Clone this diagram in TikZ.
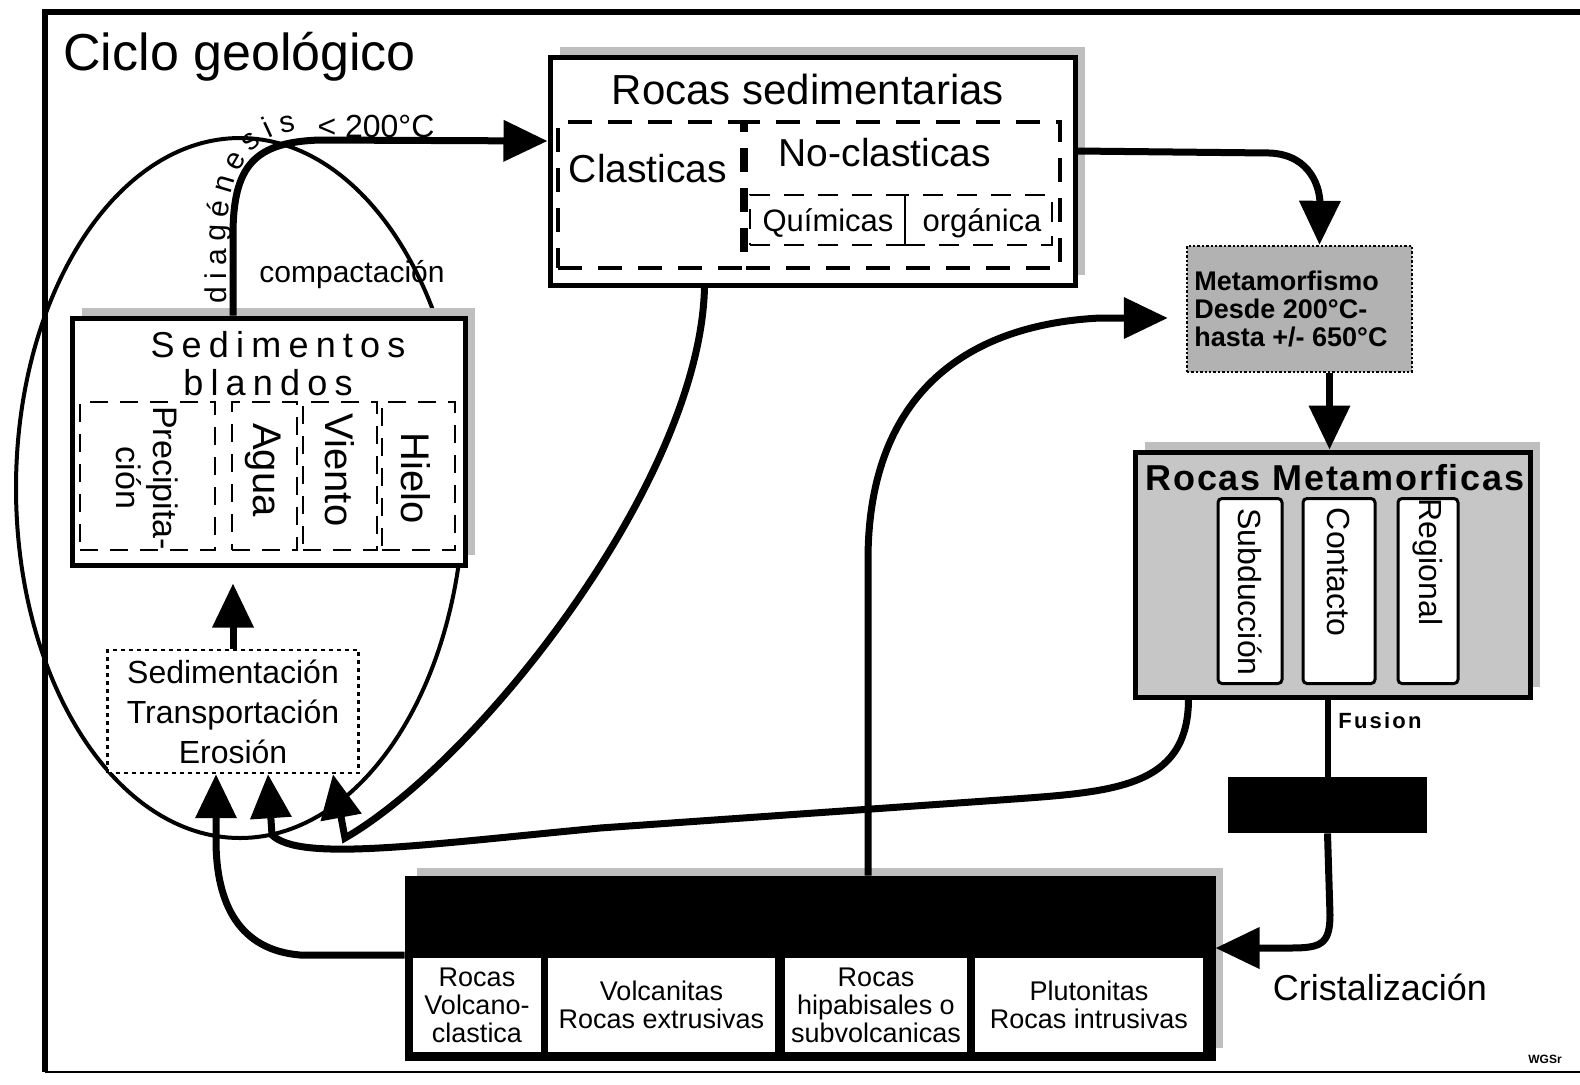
\documentclass[tikz,border=0pt]{standalone}
\usepackage{fontspec}
\setmainfont{Liberation Sans}
\usetikzlibrary{arrows.meta,shadows,decorations.text}

\newcommand{\fsz}[2]{\fontsize{#1}{#2}\selectfont}

\begin{document}
\begin{tikzpicture}[x=0.5pt,y=-0.5pt,
	box/.style={ draw, line width=2.5pt, fill=white, inner sep=0pt, general shadow={fill=gray!50, shadow xshift=5pt, shadow yshift=5pt} },
	boxd/.style={ draw, line width=1.8pt, dash pattern=on 12pt off 8pt, inner sep=0pt },
	boxs/.style={ draw, line width=1pt, dash pattern=on 9pt off 6pt, inner sep=0pt },
	boxw/.style={ draw, line width=1.5pt, fill=white, rounded corners=2pt, inner sep=0pt },
	lbl/.style={ inner sep=0pt, anchor=base },
	conn/.style={ line width=3.5pt, -{Triangle[length=22pt,width=20pt]} },
	wire/.style={ line width=3pt }
]
\useasboundingbox (0,0) rectangle (1580,1084);

% frame and title
\draw[line width=3pt] (45,1072) -- (45,12) -- (1580,12);
\draw[line width=1.2pt] (45,1072) -- (1580,1072);
\node at (63,70) (title) [lbl, anchor=base west, font=\fsz{26}{28}] {Ciclo geológico};

\draw[line width=2pt] (240,488) ellipse [x radius=224, y radius=350];

% sedimentary rocks
\node at (812.5,171) (sedrocks) [box, minimum width=262.5pt, minimum height=114pt] {};
\node at (808,104) (sedname) [lbl, font=\fsz{21}{22}] {Rocas sedimentarias};
\node at (650,195) (clast) [boxd, minimum width=92pt, minimum height=73pt] {};
\node at (903,195) (noclast) [boxd, minimum width=157pt, minimum height=73pt] {};
\node at (827.5,220) (quim) [boxd, line width=1.4pt, dash pattern=on 10pt off 7pt, minimum width=77.5pt, minimum height=25pt] {};
\node at (978.5,220) (orga) [boxd, line width=1.4pt, dash pattern=on 10pt off 7pt, minimum width=73.5pt, minimum height=25pt] {};
\node at (648,182) (clastname) [lbl, font=\fsz{19.5}{20}] {Clasticas};
\node at (885,166) (noclastname) [lbl, font=\fsz{19.5}{20}] {No-clasticas};
\node at (828,231) (quimname) [lbl, font=\fsz{15.5}{16}] {Químicas};
\node at (982,231) (organame) [lbl, font=\fsz{15.5}{16}] {orgánica};

% metamorphism
\node at (1299.5,309) (meta) [draw, densely dotted, line width=1.2pt, fill=gray!60, minimum width=112.5pt, minimum height=63pt, inner sep=0pt] {};
\node at (1194,309) (metaname) [inner sep=0pt, anchor=west, align=left, font=\bfseries\fsz{13.5}{13.8}] {Metamorfismo\\Desde 200°C-\\hasta +/- 650°C};

\node at (1332.5,574.5) (metrocks) [box, fill=gray!45, minimum width=197.5pt, minimum height=122.5pt] {};
\node at (1335,490) (metname) [lbl, font={\bfseries\fsz{18}{18}\addfontfeatures{LetterSpace=5}}] {Rocas Metamorficas};
\foreach \n/\x/\w in {subd/1250/32pt,cont/1339/36pt,regi/1428/30pt}
	\node at (\x,591) (\n) [boxw, minimum width=\w, minimum height=92.5pt] {};
\node at (1250,592) (subdname) [inner sep=0pt, rotate=-90, font=\fsz{16}{16}] {Subducción};
\node at (1339,572) (contname) [inner sep=0pt, rotate=-90, font=\fsz{16}{16}] {Contacto};
\node at (1428,562) (reginame) [inner sep=0pt, rotate=-90, font=\fsz{16}{16}] {Regional};

\node at (1327.5,805) (magma) [fill=black, minimum width=99.5pt, minimum height=28pt, inner sep=0pt] {};
\node at (1380,728) (fusion) [lbl, font={\bfseries\fsz{11}{11}\addfontfeatures{LetterSpace=10}}] {Fusion};
\node at (1380,1000) (crist) [lbl, font=\fsz{18}{18}] {Cristalización};

% igneous rocks
\node at (810,968) (igneas) [box, fill=black, minimum width=403pt, minimum height=90pt] {};
\node at (477,1005) (volcl) [fill=white, inner sep=0pt, minimum width=64pt, minimum height=47pt, align=center, font=\fsz{13.5}{14}] {Rocas\\Volcano-\\clastica};
\node at (661.5,1005) (volca) [fill=white, inner sep=0pt, minimum width=113.5pt, minimum height=47pt, align=center, font=\fsz{13.5}{14}] {Volcanitas\\Rocas extrusivas};
\node at (876,1005) (hipab) [fill=white, inner sep=0pt, minimum width=91pt, minimum height=47pt, align=center, font=\fsz{13.5}{14}] {Rocas\\hipabisales o\\subvolcanicas};
\node at (1089,1005) (pluto) [fill=white, inner sep=0pt, minimum width=114pt, minimum height=47pt, align=center, font=\fsz{13.5}{14}] {Plutonitas\\Rocas intrusivas};

% soft sediments
\node at (268.5,441.5) (sedim) [box, minimum width=196.5pt, minimum height=123.5pt] {};
\node at (278,357) (sedname1) [lbl, font={\fsz{18}{18}\addfontfeatures{LetterSpace=20}}] {Sedimentos};
\node at (268,395) (sedname2) [lbl, font={\fsz{18}{18}\addfontfeatures{LetterSpace=20}}] {blandos};
\foreach \n/\x/\w in {prec/147.5/67.5pt,agua/264.5/32.5pt,vien/340/37pt,hiel/418.5/36.5pt}
	\node at (\x,476) (\n) [boxs, minimum width=\w, minimum height=74pt] {};
\node at (147,478) (precname) [inner sep=0pt, rotate=-90, align=center, font=\fsz{17}{18.5}] {Precipita-\\ción};
\node at (263,470) (aguaname) [inner sep=0pt, rotate=-90, font=\fsz{20}{20}] {Agua};
\node at (340,470) (vienname) [inner sep=0pt, rotate=-90, font=\fsz{20}{20}] {Viento};
\node at (416,478) (hielname) [inner sep=0pt, rotate=-90, font=\fsz{20}{20}] {Hielo};

\node at (233,711.5) (erosion) [draw, line width=1.2pt, dash pattern=on 2pt off 2pt, fill=white, minimum width=125.5pt, minimum height=61.5pt, inner sep=0pt, align=center, font=\fsz{16}{20}] {Sedimentación\\Transportación\\Erosión};

% connectors
\draw[conn] (sedim.north -| erosion.north) -- (233,235) .. controls (233,165) and (255,142) .. (320,140) -- ([yshift=15pt]sedrocks.west);
\path[decorate, decoration={text along path, text align=fit to path, text={|\fsz{15}{15}|diagénesis}}] (226,303) -- (226,245) .. controls (226,180) and (245,136) .. (296,131);
\node at (376,137) (temp) [lbl, font=\fsz{16}{16}] {< 200°C};
\node at (352,282) (compac) [lbl, font=\fsz{15}{15}] {compactación};

\draw[conn, shorten >=8pt] (erosion.north) -- (sedim.south -| erosion.north);
\draw[conn] ([yshift=6.5pt]igneas.west) -- (300,955) .. controls (240,950) and (216,905) .. (216,840) -- ([xshift=-8.5pt]erosion.south);
\draw[conn] ([xshift=-72pt]metrocks.south) .. controls (1188,790) and (1110,792) .. (1000,800) -- (600,828) .. controls (420,845) and (300,862) .. (272,835) -- ([xshift=17.5pt]erosion.south);
\draw[conn] ([xshift=-54pt]sedrocks.south) .. controls (700,480) and (480,760) .. (345,838) -- ([xshift=50pt]erosion.south);

\draw[conn] ([yshift=10pt]sedrocks.east) -- (1270,153) .. controls (1312,155) and (1320,190) .. ([xshift=10pt]meta.north);
\draw[conn] ([xshift=15pt]meta.south) -- ([xshift=15pt]meta.south |- metrocks.north);
\draw[wire] (magma.north |- metrocks.south) -- (magma.north);
\draw[conn] (magma.south) -- (1330,915) .. controls (1330,945) and (1320,948) .. (1290,948) -- ([yshift=10pt]igneas.east);
\draw[conn, shorten >=9pt] ([xshift=29pt]igneas.north) -- (868,560) .. controls (868,400) and (960,325) .. (1100,318) -- ([yshift=-4.5pt]meta.west);

\node at (1545,1063) (sign) [lbl, font=\bfseries\fsz{6}{6}] {WGSr};

\end{tikzpicture}
\end{document}
